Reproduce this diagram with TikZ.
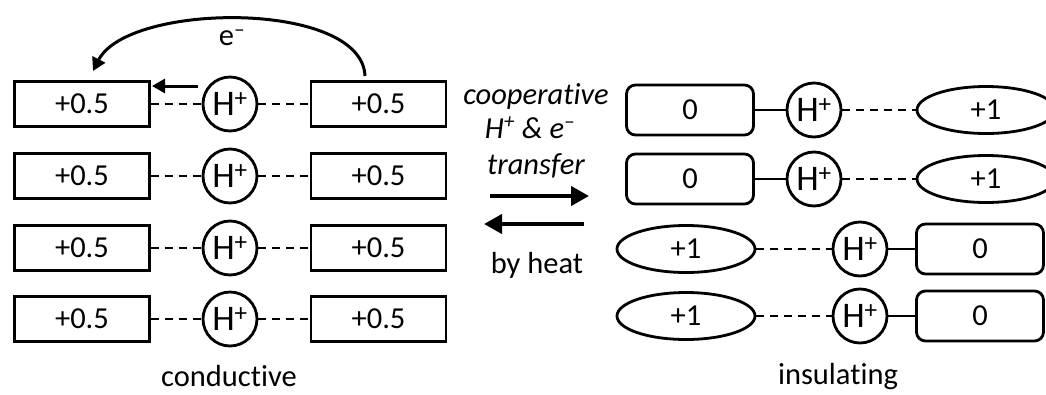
\documentclass[tikz,border=0pt]{standalone}
\usepackage{fontspec}
\setmainfont{Carlito}[Ligatures=NoCommon]
\usetikzlibrary{arrows.meta,shapes.geometric}
\begin{document}
\begin{tikzpicture}[x=1pt,y=-1pt,
  txt/.style={font=\fontsize{30.5}{34}\selectfont,inner sep=0pt},
  sqbox/.style={draw,line width=2.8pt,minimum width=135pt,minimum height=45pt,inner sep=0pt,font=\fontsize{30.5}{34}\selectfont},
  rbox/.style={draw,line width=2.8pt,rounded corners=9pt,minimum width=127pt,minimum height=50pt,inner sep=0pt,font=\fontsize{30.5}{34}\selectfont},
  oval/.style={draw,ellipse,line width=2.8pt,minimum width=138pt,minimum height=47pt,inner sep=0pt,font=\fontsize{30.5}{34}\selectfont},
  hion/.style={draw,circle,line width=2.8pt,minimum size=54pt,inner sep=0pt,font=\fontsize{36}{40}\selectfont},
  dsh/.style={line width=2pt,dash pattern=on 8pt off 6pt},
  sld/.style={line width=2pt},
  bigarr/.style={line width=4pt,-{Triangle[length=18pt,width=19pt]}},
  smallarr/.style={line width=3pt,-{Triangle[length=13pt,width=14pt]}}
]
\clip (0,0) rectangle (1046,394);
% left (conductive)
\foreach \i/\y in {1/104,2/176,3/248,4/319}{
  \node[sqbox] (la\i) at (82,\y) {+0.5};
  \node[hion] (lh\i) at (230,\y) {H\textsuperscript{+}};
  \node[sqbox] (lb\i) at (378.5,\y) {+0.5};
  \draw[dsh] (la\i.east) -- (lh\i.west);
  \draw[dsh] (lh\i.east) -- (lb\i.west);
}
\coordinate (cs) at (365,76);
\coordinate (ce) at (93,71);
\draw[smallarr] (cs) .. controls (362,0) and (128,2) .. (ce);
\node[txt] (elab) at (232,38) {e\textsuperscript{–}};
\coordinate (ss) at (198,86);
\coordinate (se) at (152,86);
\draw[smallarr] (ss) -- (se);
% middle
\node[txt,anchor=base] (t1) at (536,104) {\itshape cooperative};
\node[txt,anchor=base] (t2) at (530,138) {\itshape H\textsuperscript{+} \& e\textsuperscript{–}};
\node[txt,anchor=base] (t3) at (536,174) {\itshape transfer};
\coordinate (a1s) at (490,196);
\coordinate (a1e) at (589,196);
\coordinate (a2s) at (584,224);
\coordinate (a2e) at (484,224);
\draw[bigarr] (a1s) -- (a1e);
\draw[bigarr] (a2s) -- (a2e);
\node[txt,anchor=base] (t4) at (537,273) {by heat};
% right (insulating)
\foreach \i/\y in {1/110,2/179}{
  \node[rbox] (ra\i) at (690,\y) {0};
  \node[hion] (rh\i) at (814,\y) {H\textsuperscript{+}};
  \node[oval] (rb\i) at (986,\y) {+1};
  \draw[sld] (ra\i.east) -- (rh\i.west);
  \draw[dsh] (rh\i.east) -- (rb\i.west);
}
\foreach \i/\y in {3/249,4/316}{
  \node[oval] (ra\i) at (686,\y) {+1};
  \node[hion] (rh\i) at (860,\y) {H\textsuperscript{+}};
  \node[rbox] (rb\i) at (980,\y) {0};
  \draw[dsh] (ra\i.east) -- (rh\i.west);
  \draw[sld] (rh\i.east) -- (rb\i.west);
}
\node[txt,anchor=base] (cond) at (229,386) {conductive};
\node[txt,anchor=base] (ins) at (838,384) {insulating};
\end{tikzpicture}
\end{document}
